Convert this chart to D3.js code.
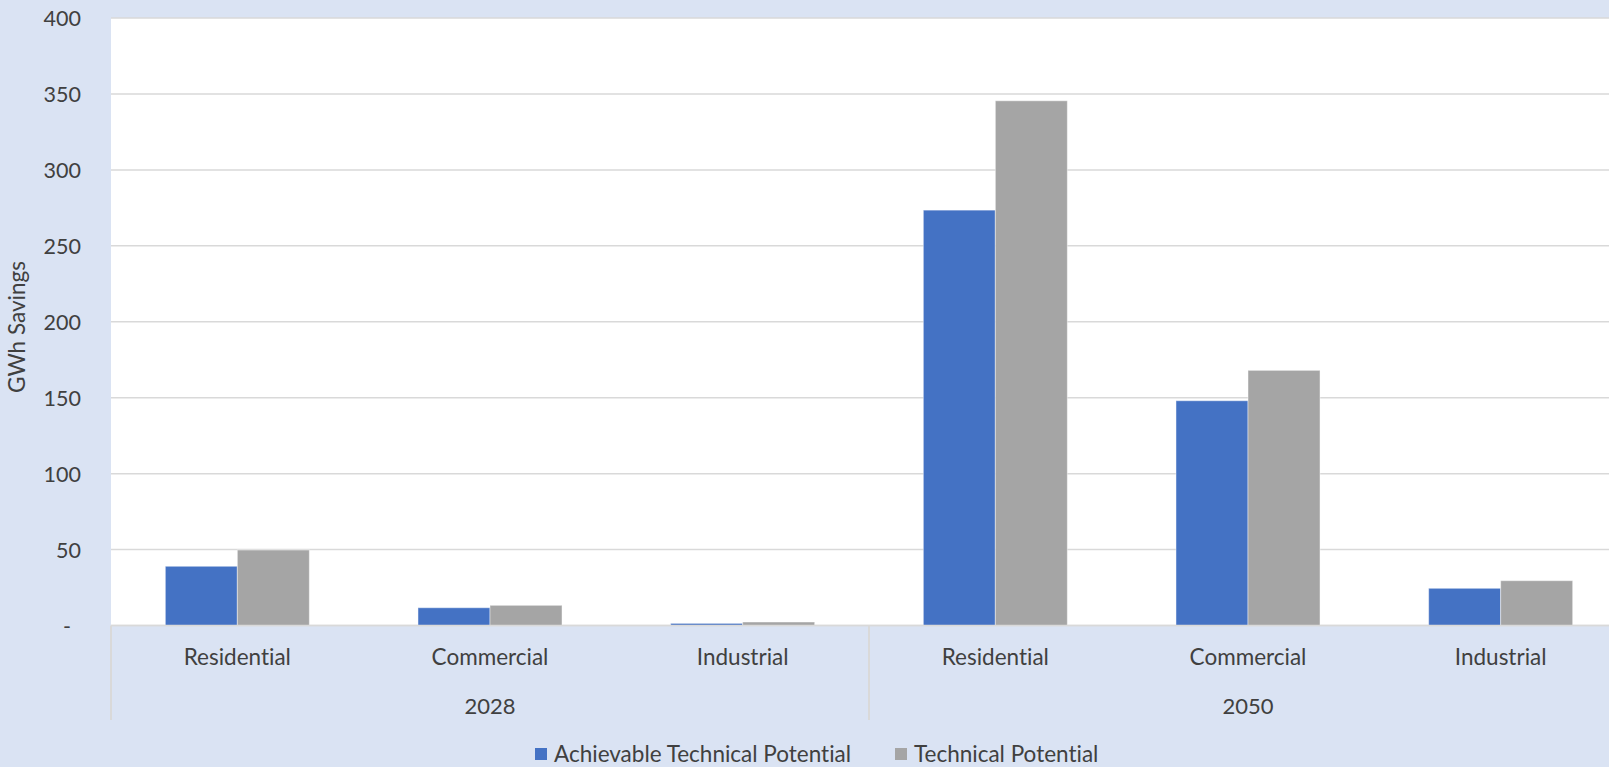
<!DOCTYPE html>
<html>
<head>
<meta charset="utf-8">
<script src="https://cdn.jsdelivr.net/npm/d3@7"></script>
<style>
  html, body { margin: 0; padding: 0; background: #DAE3F3; }
  svg { display: block; }
  text { font-family: Lato, "Open Sans", sans-serif; fill: #404040; font-variant-ligatures: none; }
</style>
</head>
<body>
<svg id="chart" width="1609" height="767"></svg>
<script>
// Savings by sector, two horizon years
const years = ["2028", "2050"];
const sectors = ["Residential", "Commercial", "Industrial"];
const seriesNames = ["Achievable Technical Potential", "Technical Potential"];
const achievable = [39, 11.7, 1.4, 273.5, 148, 24.5];
const technical = [49.7, 13.3, 2.3, 345.5, 168, 29.5];
const yTicks = [0, 50, 100, 150, 200, 250, 300, 350, 400];
const yTitle = "GWh Savings";
const colors = ["#4472C4", "#A5A5A5"];

const W = 1609, H = 767;
const m = { left: 111, right: 1627, top: 18, bottom: 625.5 };

const svg = d3.select("#chart");
svg.append("rect").attr("width", W).attr("height", H).attr("fill", "#DAE3F3");

// one slot per (year, sector) pair
const slots = [];
years.forEach(yr => sectors.forEach(s => slots.push({ year: yr, sector: s, key: yr + "|" + s })));
slots.forEach((d, i) => { d.values = [achievable[i], technical[i]]; });

const x0 = d3.scaleBand().domain(slots.map(d => d.key)).range([m.left, m.right])
  .paddingInner(0.43).paddingOuter(0.215);
const x1 = d3.scaleBand().domain(d3.range(seriesNames.length)).range([0, x0.bandwidth()]);
const y = d3.scaleLinear().domain([0, 400]).range([m.bottom, m.top]);

// plot area
svg.append("rect").attr("x", m.left).attr("y", m.top)
  .attr("width", m.right - m.left).attr("height", m.bottom - m.top).attr("fill", "#ffffff");

// gridlines
svg.append("g").selectAll("line").data(yTicks).join("line")
  .attr("x1", m.left).attr("x2", m.right)
  .attr("y1", d => y(d)).attr("y2", d => y(d))
  .attr("stroke", "#D9D9D9").attr("stroke-width", 1.5);

// y tick labels
const yAxis = d3.axisLeft(y).tickValues(yTicks).tickSize(0).tickPadding(0)
  .tickFormat(d => d === 0 ? "-" : d3.format("d")(d));
const ga = svg.append("g").attr("transform", `translate(81,0)`).call(yAxis);
ga.select(".domain").remove();
ga.selectAll("text").attr("font-size", 21.5).attr("font-family", "Lato, sans-serif")
  .attr("fill", "#404040").attr("dy", "0.35em")
  .attr("dx", d => d === 0 ? -10 : 0);

// y axis title
svg.append("text").attr("transform", `translate(25,327) rotate(-90)`)
  .attr("text-anchor", "middle").attr("font-size", 22.5).text(yTitle);

// bars
const groups = svg.append("g").selectAll("g").data(slots).join("g")
  .attr("transform", d => `translate(${x0(d.key)},0)`);
groups.selectAll("rect").data(d => d.values.map((v, i) => ({ v, i }))).join("rect")
  .attr("x", d => x1(d.i)).attr("width", x1.bandwidth())
  .attr("y", d => y(d.v)).attr("height", d => y(0) - y(d.v))
  .attr("fill", d => colors[d.i])
  .attr("stroke", "#ffffff").attr("stroke-opacity", 0.45).attr("stroke-width", 1);

// zero line on top
svg.append("line").attr("x1", m.left).attr("x2", m.right)
  .attr("y1", y(0)).attr("y2", y(0)).attr("stroke", "#D9D9D9").attr("stroke-width", 1.5);

// category labels
svg.append("g").selectAll("text").data(slots).join("text")
  .attr("x", d => x0(d.key) + x0.bandwidth() / 2).attr("y", 657)
  .attr("dy", "0.35em").attr("text-anchor", "middle").attr("font-size", 22.5)
  .text(d => d.sector);

// year labels and group separators
const step = x0.step();
years.forEach((yr, gi) => {
  const first = slots.find(s => s.year === yr);
  const gx = x0(first.key) - x0.paddingOuter() * step;
  const gw = step * sectors.length;
  svg.append("text").attr("x", gx + gw / 2).attr("y", 706).attr("dy", "0.35em")
    .attr("text-anchor", "middle").attr("font-size", 22).text(yr);
  svg.append("line").attr("x1", gx).attr("x2", gx).attr("y1", y(0)).attr("y2", 720)
    .attr("stroke", "#D9D9D9").attr("stroke-width", 2);
  if (gi === years.length - 1) {
    svg.append("line").attr("x1", gx + gw).attr("x2", gx + gw).attr("y1", y(0)).attr("y2", 720)
      .attr("stroke", "#D9D9D9").attr("stroke-width", 2);
  }
});

// legend
const legendItems = [{ x: 535, name: seriesNames[0], c: colors[0] }, { x: 895, name: seriesNames[1], c: colors[1] }];
const lg = svg.append("g").selectAll("g").data(legendItems).join("g")
  .attr("transform", d => `translate(${d.x},748)`);
lg.append("rect").attr("width", 12).attr("height", 12).attr("fill", d => d.c);
lg.append("text").attr("x", 19).attr("y", 6).attr("dy", "0.35em").attr("font-size", 22.5)
  .text(d => d.name);
</script>
</body>
</html>
